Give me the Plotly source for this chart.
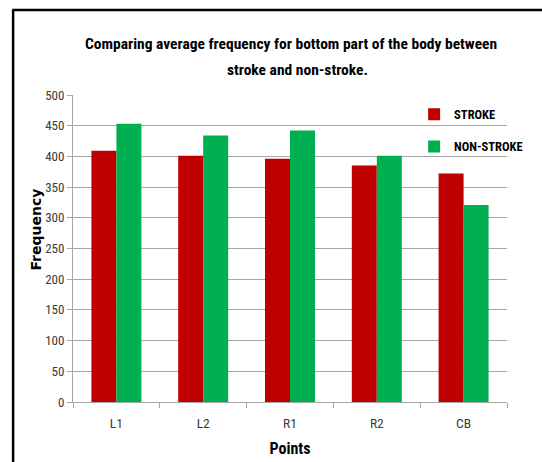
import plotly.graph_objects as go

# Measurement points and average frequencies per group
points = ["L1", "L2", "R1", "R2", "CB"]
stroke = [409, 401, 396, 385, 372]
non_stroke = [453, 434, 442, 401, 321]
series_names = ["STROKE", "NON-STROKE"]
series_colors = ["#C00000", "#00B050"]

title_lines = [
    "Comparing average frequency for bottom part of the body between",
    "stroke and non-stroke.",
]
y_title = "Frequency"
x_title = "Points"

FONT = "Roboto Condensed, Roboto, Liberation Sans, sans-serif"
TICK_COLOR = "#3a3a3a"
GRID = "#a6a6a6"

fig = go.Figure()
for name, vals, color in zip(series_names, [stroke, non_stroke], series_colors):
    fig.add_trace(go.Bar(
        x=points, y=vals, name=name, legendgroup=name,
        marker=dict(color=color, line=dict(width=0)),
    ))

fig.update_layout(
    width=542, height=462,
    margin=dict(l=73, r=35, t=95, b=60, autoexpand=False),
    paper_bgcolor="white", plot_bgcolor="white",
    barmode="group", bargap=0.424, bargroupgap=0,
    font=dict(family=FONT, color="#000000"),
    showlegend=True,
    legend=dict(
        x=0.786, y=0.985, xanchor="left", yanchor="top",
        bgcolor="rgba(0,0,0,0)", tracegroupgap=13,
        font=dict(family=FONT, size=12.5, color="#000000", weight="bold"),
        itemwidth=30,
    ),
    xaxis=dict(
        showline=True, linecolor=GRID, linewidth=1,
        ticks="outside", tickson="boundaries", ticklen=5, tickcolor=GRID,
        tickfont=dict(family=FONT, size=13.5, color=TICK_COLOR),
        ticklabelstandoff=9,
        title=dict(text=x_title, standoff=12,
                   font=dict(family=FONT, size=16, color="#000000", weight="bold")),
        showgrid=False,
    ),
    yaxis=dict(
        range=[0, 500], dtick=50,
        showline=True, linecolor=GRID, linewidth=1,
        ticks="outside", ticklen=5, tickcolor=GRID,
        tickfont=dict(family=FONT, size=13, color=TICK_COLOR),
        showgrid=True, gridcolor=GRID, gridwidth=1,
        zeroline=False,
    ),
)

# Vertical axis caption placed beside the tick labels
fig.add_annotation(
    text=y_title, xref="paper", yref="paper", x=-0.085, y=0.562,
    xanchor="center", yanchor="middle", textangle=-90, showarrow=False,
    font=dict(family="DejaVu Sans", size=14, color="#000000", weight="bold"),
)

# Two-line centred heading
for line, xpos, ypos in zip(title_lines, [0.502, 0.518], [1.166, 1.081]):
    fig.add_annotation(
        text=line, xref="paper", yref="paper", x=xpos, y=ypos,
        xanchor="center", yanchor="middle", showarrow=False,
        font=dict(family=FONT, size=15.5, color="#000000", weight="bold"),
    )

# Chart frame (left and top edges)
fig.add_shape(type="line", xref="paper", yref="paper",
              x0=-0.138, y0=-0.25, x1=-0.138, y1=1.277,
              line=dict(color="#000000", width=2.5))
fig.add_shape(type="line", xref="paper", yref="paper",
              x0=-0.140, y0=1.277, x1=1.2, y1=1.277,
              line=dict(color="#000000", width=2.5))

fig.write_html("out.html")
